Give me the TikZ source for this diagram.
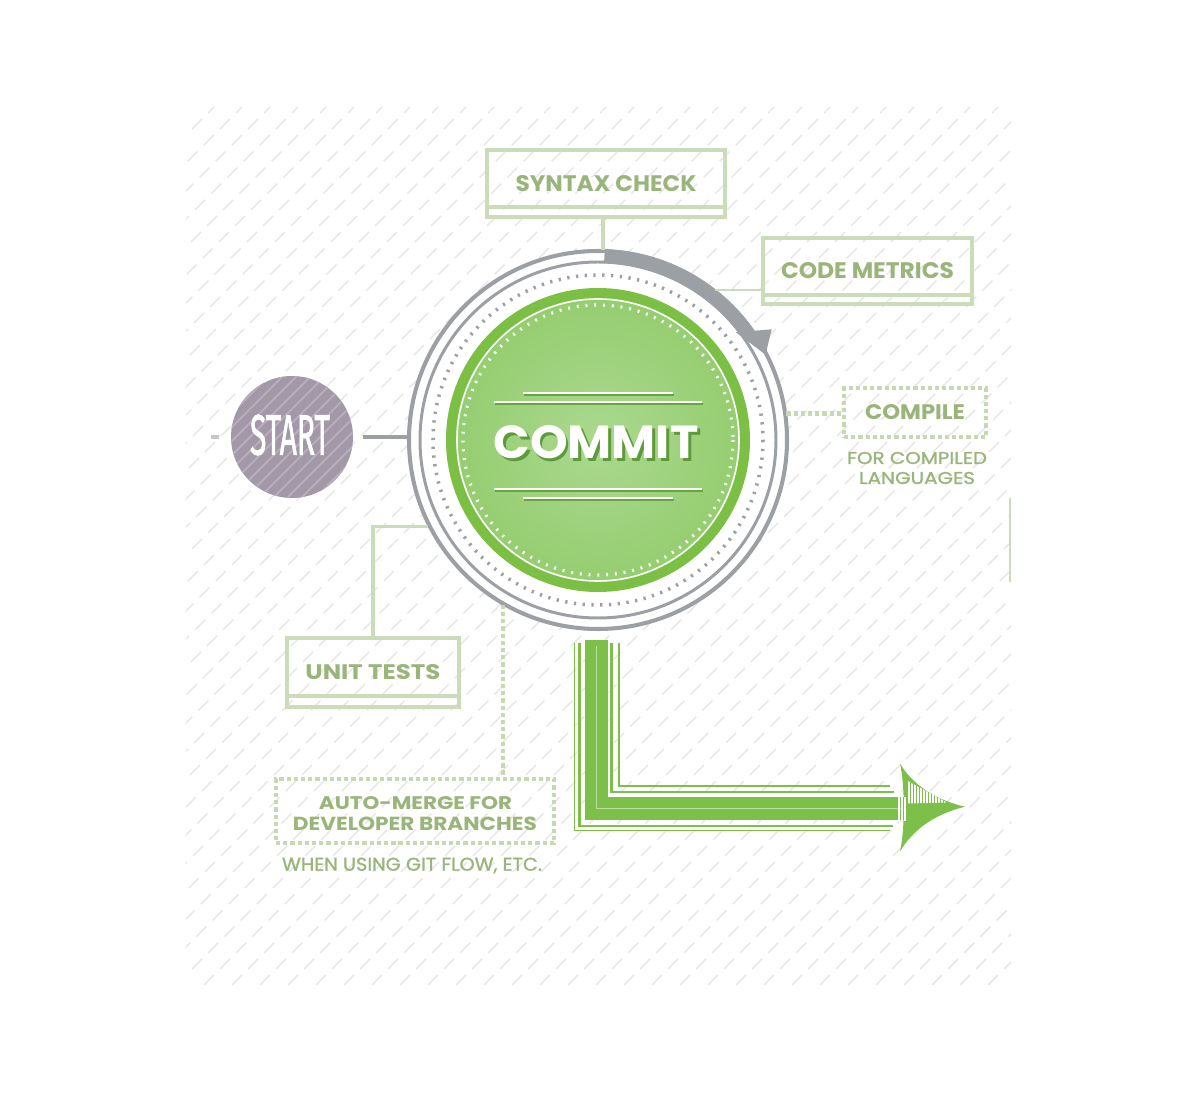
\documentclass[tikz,border=0pt]{standalone}
\usepackage{fontspec}
\usepackage{graphicx}
\usetikzlibrary{calc}
\newfontfamily\popf{Poppins}
\newfontfamily\popm{Poppins}[FakeBold=1.2]
\newfontfamily\firaf{Fira Sans}[FakeBold=1.5]
\newlength\pxu
\setlength\pxu{0.02cm}
\newcommand\fitt[3]{\resizebox{#1\pxu}{#2\pxu}{#3}}
\definecolor{lblc}{HTML}{9AB57A}
\definecolor{boxc}{HTML}{CADCB8}
\definecolor{dotc}{HTML}{C6D9B1}
\definecolor{ringc}{HTML}{9CA0A4}
\definecolor{startc}{HTML}{A398A8}
\definecolor{stripec}{HTML}{B7AEBC}
\definecolor{agreen}{HTML}{7CC04A}
\definecolor{aglight}{HTML}{B9DEA0}
\definecolor{cgreen}{HTML}{7BC045}
\definecolor{cshadow}{HTML}{5E9A3A}
\definecolor{hatchc}{HTML}{E4E4E4}
\pgfdeclareradialshading{commitshade}{\pgfpoint{0bp}{0bp}}{rgb(0bp)=(0.67,0.85,0.56); rgb(50bp)=(0.5,0.76,0.32); rgb(100bp)=(0.5,0.76,0.32)}
\tikzset{
  hatch/.style={draw=hatchc, line width=0.8pt, dash pattern=on 8pt off 5pt},
  sbox/.style={draw=boxc, line width=2.3pt, inner sep=0pt, text=lblc},
  dbox/.style={draw=dotc, line width=2.3pt, dash pattern=on 2.4pt off 1.7pt, inner sep=0pt, text=lblc},
  conn/.style={draw=boxc, line width=2.1pt},
  dconn/.style={draw=dotc, line width=2.3pt, dash pattern=on 2.4pt off 1.7pt},
  divider/.style={draw=boxc, line width=2.3pt},
  lbltext/.style={inner sep=0pt, text=lblc},
  ring/.style={draw=ringc},
}
\begin{document}
\begin{tikzpicture}[x=0.02cm, y=-0.02cm]
\useasboundingbox (0,0) rectangle (1198,1094);
\fill[white] (0,0) rectangle (1198,1094);
% background hatch
\begin{scope}
\clip (186,107) rectangle (1011,985);
\foreach \c in {293,321,...,2000}{\draw[hatch] (\c-985,985) -- (\c-107,107);}
\end{scope}
\draw[boxc, line width=1.2pt] (1010,498) -- (1010,582);

% commit circle
\node[circle, minimum size=7.6cm, inner sep=0pt] (commit) at (598,440) {};
\fill[white] (commit.center) circle (190);
\draw[ring, line width=2.3pt] (commit.center) circle (189);
\draw[ring, line width=1.7pt] (commit.center) circle (178);
\draw[ring, line width=7.9pt] (commit.center) ++(-88:184) arc[start angle=-88, end angle=-35, radius=184];
\fill[ringc] ($(commit.center)+(-38:175)$) -- ($(commit.center)+(-32.5:206)$) -- ($(commit.center)+(-27:188)$) -- cycle;
\draw[ring, line width=2pt, dash pattern=on 1.3pt off 3.7pt] (commit.center) circle (165);
\fill[cgreen] (commit.center) circle (152);
\shade[shading=commitshade] (commit.center) circle (142);
\draw[white, line width=0.9pt] (commit.center) circle (141);
\draw[white, line width=1.8pt, dash pattern=on 1.1pt off 3.9pt] (commit.center) circle (135);
\foreach \yy/\xa/\xb in {393/523/673, 402/494/702, 489/494/702, 498/523/673}{
  \draw[cshadow!70!cgreen, line width=1.1pt] (\xa+1,\yy+1.6) -- (\xb+1,\yy+1.6);
  \draw[white, line width=1.1pt] (\xa,\yy) -- (\xb,\yy);
}
\node[inner sep=0pt, text=white] (ctext) at (596,443.5) {\fitt{205}{33}{\popf\bfseries\rlap{\kern0.6pt\raisebox{-0.6pt}{\color{cshadow}COMMIT}}COMMIT}};

% start
\node[circle, minimum size=2.44cm, inner sep=0pt, fill=startc,
  path picture={\foreach \d in {-140,-126,...,140}{\draw[stripec, line width=1.1pt] (\d-70,70) -- (\d+70,-70);}}] (start) at (292,437) {};
\node[inner sep=0pt, text=white] (stext) at (290,435) {\fitt{80}{40}{\firaf START}};
\draw[ringc!60, line width=2.5pt] ([xshift=-0.24cm]start.west) -- ([xshift=-0.4cm]start.west);
\draw[ringc, line width=2.8pt] ([xshift=0.2cm]start.east) -- (start.east -| commit.west);

% boxes
\node[sbox, minimum width=4.76cm, minimum height=1.34cm] (syntax) at (606,183.5) {\fitt{181}{16}{\popf\bfseries SYNTAX CHECK}};
\draw[divider] ([yshift=0.24cm]syntax.south west) -- ([yshift=0.24cm]syntax.south east);
\node[sbox, minimum width=4.18cm, minimum height=1.32cm] (metrics) at (867.5,271) {\fitt{173}{16}{\popf\bfseries CODE METRICS}};
\draw[divider] ([yshift=0.22cm]metrics.south west) -- ([yshift=0.22cm]metrics.south east);
\node[sbox, minimum width=3.44cm, minimum height=1.38cm] (unit) at (373,672.5) {\fitt{135}{15}{\popf\bfseries UNIT TESTS}};
\draw[divider] ([yshift=0.26cm]unit.south west) -- ([yshift=0.26cm]unit.south east);
\node[dbox, minimum width=2.84cm, minimum height=0.98cm] (compile) at (915,412.5) {\fitt{100}{15}{\popf\bfseries COMPILE}};
\node[lbltext] (comp1) at (917,458) {\fitt{140}{12}{\popm FOR COMPILED}};
\node[lbltext] (comp2) at (917,478) {\fitt{116}{12}{\popm LANGUAGES}};
\node[dbox, minimum width=5.56cm, minimum height=1.28cm] (merge) at (415,811) {};
\node[lbltext] (merge1) at (415.5,803.3) {\fitt{193}{13}{\popf\bfseries AUTO-MERGE FOR}};
\node[lbltext] (merge2) at (415,824) {\fitt{244}{13.5}{\popf\bfseries DEVELOPER BRANCHES}};
\node[lbltext] (merge3) at (412,865.5) {\fitt{260}{13}{\popm WHEN USING GIT FLOW, ETC.}};

% connectors
\draw[conn] ([xshift=-0.06cm]syntax.south) -- ([xshift=-0.06cm]syntax.south |- commit.north);
\draw[conn, line width=1.6pt] (commit.52) -- (commit.52 -| metrics.west);
\draw[dconn] (commit.8) -- (commit.8 -| compile.west);
\draw[conn] (commit.207.6) -| (unit.north);
\draw[dconn] (commit.240) -- (commit.240 |- merge.north);

% green L arrow
\coordinate (lstart) at (596.5,640);
\coordinate (lend) at (905,808.5);
\draw[agreen, line width=0.85pt] (574.5,643) |- (890,830.5);
\draw[agreen, line width=1.4pt] (579.5,643) |- (893,826);
\draw[agreen, line width=13pt] (lstart) |- (lend);
\draw[aglight, line width=0.6pt] (596.7,646) |- (903,808.3);
\draw[agreen, line width=1.7pt] (611.5,643) |- (894,792);
\draw[agreen, line width=0.85pt] (619,643) |- (890,786);
\fill[agreen] (900,763.5) .. controls (912,784) and (935,800) .. (965,806.7) .. controls (935,814) and (912,830) .. (900,851.7) .. controls (905,830) and (905,785) .. (900,763.5) -- cycle;
\begin{scope}
\clip (908,781) -- (947,802.5) -- (908,803.5) -- cycle;
\foreach \xx in {909,912,...,950}{\draw[white, line width=1.1pt] (\xx,770) -- (\xx,804);}
\end{scope}
\begin{scope}
\clip (898,797) rectangle (907,821);
\foreach \xx in {899,902,...,907}{\draw[white, line width=1pt] (\xx,797) -- (\xx,821);}
\end{scope}
\end{tikzpicture}
\end{document}
